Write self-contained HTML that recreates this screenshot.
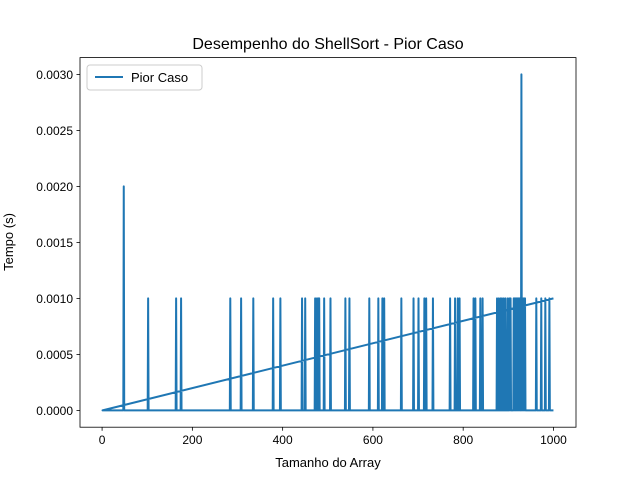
<!DOCTYPE html>
<html><head><meta charset="utf-8"><style>
body{margin:0;background:#fff;}
svg{display:block;font-family:"Liberation Sans","DejaVu Sans",sans-serif;}
</style></head><body>
<svg id="chart" width="640" height="480">
<rect x="0" y="0" width="640" height="480" fill="#fff"/>
<text x="328" y="49" text-anchor="middle" font-size="16">Desempenho do ShellSort - Pior Caso</text>
<g id="plot"></g>
<g id="axes"></g>
<text x="328" y="467" text-anchor="middle" font-size="13">Tamanho do Array</text>
<text transform="translate(13,242) rotate(-90)" text-anchor="middle" font-size="13">Tempo (s)</text>
<g>
<rect x="87" y="65" width="115" height="25" rx="3" fill="#fff" stroke="#ccc"/>
<line x1="95" y1="77" x2="123" y2="77" stroke="#1f77b4" stroke-width="2"/>
<text x="131" y="82" font-size="13">Pior Caso</text>
</g>
</svg>
<script>
const spikeSizes=[48,102,164,175,284,308,335,379,395,443,450,472,476,479,481,492,506,539,548,592,612,621,625,663,690,701,714,718,733,771,782,788,792,823,827,838,843,875,879,883,886,890,894,899,903,905,912,914,916,918,920,922,924,926,929,931,933,935,937,962,973,982,991];
const spikeTimes=[0.002,0.001,0.001,0.001,0.001,0.001,0.001,0.001,0.001,0.001,0.001,0.001,0.001,0.001,0.001,0.001,0.001,0.001,0.001,0.001,0.001,0.001,0.001,0.001,0.001,0.001,0.001,0.001,0.001,0.001,0.001,0.001,0.001,0.001,0.001,0.001,0.001,0.001,0.001,0.001,0.001,0.001,0.001,0.001,0.001,0.001,0.001,0.001,0.001,0.001,0.001,0.001,0.001,0.001,0.003,0.001,0.001,0.001,0.001,0.001,0.001,0.001,0.001];
const xTicks=[0,200,400,600,800,1000];
const yTicks=[0,0.0005,0.001,0.0015,0.002,0.0025,0.003];
const yTickLabels=["0.0000","0.0005","0.0010","0.0015","0.0020","0.0025","0.0030"];
const startPoint=[1000,0.001];
const firstSize=1, lastSize=1000;

const L=80,R=576,T=57.6,B=427.2;
const xMin=-48.95,xMax=1049.95,yMin=-0.00015,yMax=0.00315;
const sx=v=>L+(v-xMin)/(xMax-xMin)*(R-L);
const sy=v=>B-(v-yMin)/(yMax-yMin)*(B-T);
const NS="http://www.w3.org/2000/svg";
const plot=document.getElementById('plot'),axes=document.getElementById('axes');

let pts=[[startPoint[0],startPoint[1]],[firstSize,0]];
spikeSizes.forEach((s,i)=>{pts.push([s-1,0]);pts.push([s,spikeTimes[i]]);pts.push([s+1,0]);});
pts.push([lastSize,0]);
const line=document.createElementNS(NS,'polyline');
line.setAttribute('points',pts.map(p=>sx(p[0]).toFixed(2)+','+sy(p[1]).toFixed(2)).join(' '));
line.setAttribute('fill','none');line.setAttribute('stroke','#1f77b4');line.setAttribute('stroke-width','2');
line.setAttribute('stroke-linejoin','round');


plot.appendChild(line);

const frame=document.createElementNS(NS,'rect');
frame.setAttribute('x',L);frame.setAttribute('y',T);frame.setAttribute('width',R-L);frame.setAttribute('height',B-T);
frame.setAttribute('fill','none');frame.setAttribute('stroke','#000');frame.setAttribute('stroke-width','0.8');


axes.appendChild(frame);

xTicks.forEach(v=>{
 const x=sx(v);
 const t=document.createElementNS(NS,'line');
 t.setAttribute('x1',x);t.setAttribute('x2',x);t.setAttribute('y1',B);t.setAttribute('y2',B+3.5);t.setAttribute('stroke','#000');t.setAttribute('stroke-width','0.8');
 
 
 axes.appendChild(t);
 const tx=document.createElementNS(NS,'text');
 tx.setAttribute('x',x);tx.setAttribute('y',B+17);tx.setAttribute('text-anchor','middle');tx.setAttribute('font-size','12');
 tx.textContent=v;
 
 
 axes.appendChild(tx);
});
yTicks.forEach((v,i)=>{
 const y=sy(v);
 const t=document.createElementNS(NS,'line');
 t.setAttribute('x1',L-3.5);t.setAttribute('x2',L);t.setAttribute('y1',y);t.setAttribute('y2',y);t.setAttribute('stroke','#000');t.setAttribute('stroke-width','0.8');
 
 
 axes.appendChild(t);
 const tx=document.createElementNS(NS,'text');
 tx.setAttribute('x',L-7);tx.setAttribute('y',y+4.5);tx.setAttribute('text-anchor','end');tx.setAttribute('font-size','12');
 tx.textContent=yTickLabels[i];
 
 
 axes.appendChild(tx);
});
</script>
</body></html>
